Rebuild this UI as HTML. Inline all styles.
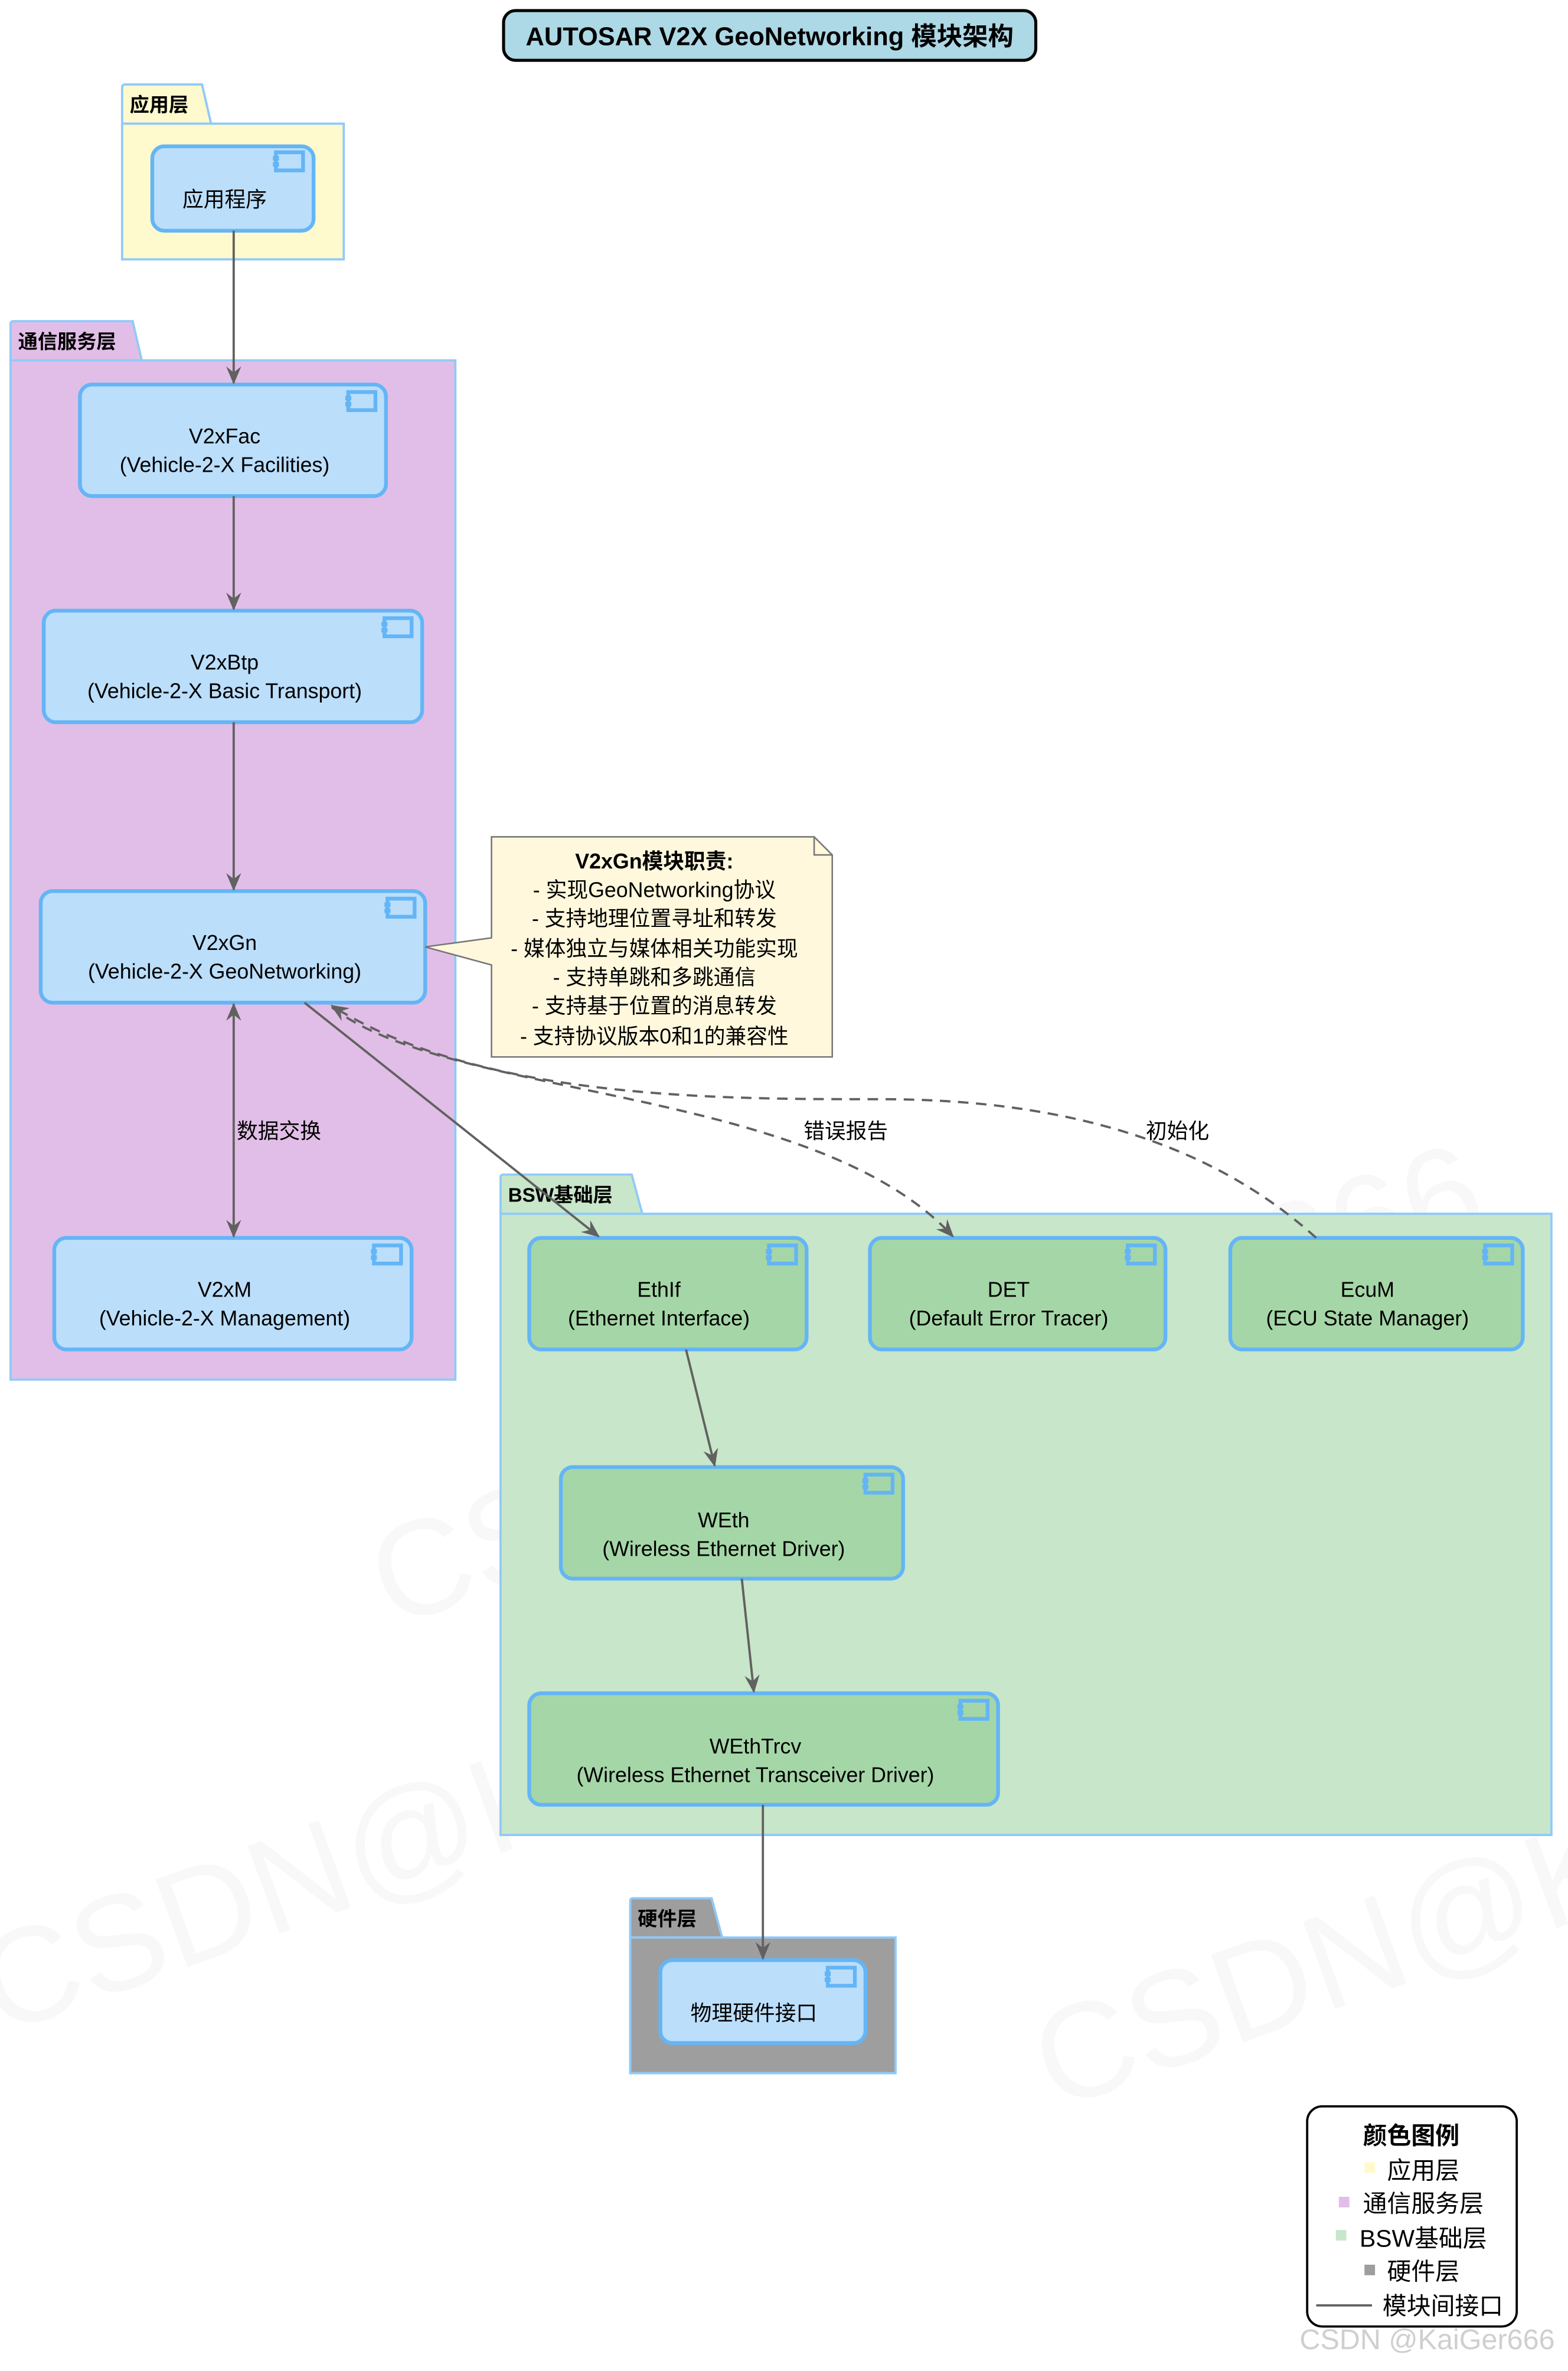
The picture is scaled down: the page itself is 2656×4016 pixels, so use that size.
<!DOCTYPE html>
<html><head><meta charset="utf-8"><style>
html,body{margin:0;padding:0;background:#fff;}
svg{display:block;}
text{font-family:"Liberation Sans","Noto Sans CJK SC",sans-serif;fill:#000;}
</style></head><body>
<svg width="2656" height="4016" viewBox="0 0 1040 1572.5" xmlns="http://www.w3.org/2000/svg">
<defs>
<marker id="ah" viewBox="0 0 12 10" refX="11" refY="5" markerWidth="12" markerHeight="10" markerUnits="userSpaceOnUse" orient="auto-start-reverse">
<path d="M0,0 L12,5 L0,10 L4,5 Z" fill="#616161"/>
</marker>
<g id="ic"><rect x="2" y="0" width="18" height="12" fill="none" stroke="#64b5f6" stroke-width="2.5"/><rect x="0" y="2.5" width="4" height="3" fill="#64b5f6"/><rect x="0" y="6.5" width="4" height="3" fill="#64b5f6"/></g>
</defs>

<!-- watermark -->
<g fill="#000" opacity="0.025" font-size="90">
<text x="260" y="1080" transform="rotate(-20 260 1080)">CSDN@KaiGer666</text>
<text x="0" y="1350" transform="rotate(-20 0 1350)">CSDN@KaiGer666</text>
<text x="700" y="1400" transform="rotate(-20 700 1400)">CSDN@KaiGer666</text>
</g>

<!-- title -->
<rect x="334" y="7" width="353" height="33" rx="8" fill="#add8e6" stroke="#000" stroke-width="2"/>
<text x="510.5" y="30" font-size="17" font-weight="bold" text-anchor="middle">AUTOSAR V2X GeoNetworking 模块架构</text>

<!-- app layer -->
<path d="M81,82 L81,58 Q81,56 83,56 L134,56 L140,82 Z" fill="#fffacd" stroke="#90caf9" stroke-width="1.5"/>
<rect x="81" y="82" width="147" height="90" fill="#fffacd" stroke="#90caf9" stroke-width="1.5"/>
<text x="86" y="74" font-size="13" font-weight="bold">应用层</text>
<rect x="101" y="97" width="107" height="56" rx="8" fill="#bbdefb" stroke="#64b5f6" stroke-width="2.5"/>
<use href="#ic" x="181" y="101"/>
<text x="149" y="137" font-size="14" text-anchor="middle">应用程序</text>

<!-- comm layer -->
<path d="M7,239 L7,215 Q7,213 9,213 L88,213 L94,239 Z" fill="#e1bee7" stroke="#90caf9" stroke-width="1.5"/>
<rect x="7" y="239" width="295" height="676" fill="#e1bee7" stroke="#90caf9" stroke-width="1.5"/>
<text x="12" y="231" font-size="13" font-weight="bold">通信服务层</text>

<g font-size="14" text-anchor="middle">
<rect x="53" y="255" width="203" height="74" rx="8" fill="#bbdefb" stroke="#64b5f6" stroke-width="2.5"/>
<use href="#ic" x="229" y="260"/>
<text x="149" y="294">V2xFac</text><text x="149" y="313">(Vehicle-2-X Facilities)</text>

<rect x="29" y="405" width="251" height="74" rx="8" fill="#bbdefb" stroke="#64b5f6" stroke-width="2.5"/>
<use href="#ic" x="253" y="410"/>
<text x="149" y="444">V2xBtp</text><text x="149" y="463">(Vehicle-2-X Basic Transport)</text>

<rect x="27" y="591" width="255" height="74" rx="8" fill="#bbdefb" stroke="#64b5f6" stroke-width="2.5"/>
<use href="#ic" x="255" y="596"/>
<text x="149" y="630">V2xGn</text><text x="149" y="649">(Vehicle-2-X GeoNetworking)</text>

<rect x="36" y="821" width="237" height="74" rx="8" fill="#bbdefb" stroke="#64b5f6" stroke-width="2.5"/>
<use href="#ic" x="246" y="826"/>
<text x="149" y="860">V2xM</text><text x="149" y="879">(Vehicle-2-X Management)</text>
</g>

<!-- BSW layer -->
<path d="M332,805 L332,781 Q332,779 334,779 L419,779 L426,805 Z" fill="#c8e6c9" stroke="#90caf9" stroke-width="1.5"/>
<rect x="332" y="805" width="697" height="412" fill="#c8e6c9" stroke="#90caf9" stroke-width="1.5"/>
<text x="337" y="797" font-size="13" font-weight="bold">BSW基础层</text>

<g font-size="14" text-anchor="middle">
<rect x="351" y="821" width="184" height="74" rx="8" fill="#a5d6a7" stroke="#64b5f6" stroke-width="2.5"/>
<use href="#ic" x="508" y="826"/>
<text x="437" y="860">EthIf</text><text x="437" y="879">(Ethernet Interface)</text>

<rect x="577" y="821" width="196" height="74" rx="8" fill="#a5d6a7" stroke="#64b5f6" stroke-width="2.5"/>
<use href="#ic" x="746" y="826"/>
<text x="669" y="860">DET</text><text x="669" y="879">(Default Error Tracer)</text>

<rect x="816" y="821" width="194" height="74" rx="8" fill="#a5d6a7" stroke="#64b5f6" stroke-width="2.5"/>
<use href="#ic" x="983" y="826"/>
<text x="907" y="860">EcuM</text><text x="907" y="879">(ECU State Manager)</text>

<rect x="372" y="973" width="227" height="74" rx="8" fill="#a5d6a7" stroke="#64b5f6" stroke-width="2.5"/>
<use href="#ic" x="572" y="978"/>
<text x="480" y="1013">WEth</text><text x="480" y="1032">(Wireless Ethernet Driver)</text>

<rect x="351" y="1123" width="311" height="74" rx="8" fill="#a5d6a7" stroke="#64b5f6" stroke-width="2.5"/>
<use href="#ic" x="635" y="1128"/>
<text x="501" y="1163">WEthTrcv</text><text x="501" y="1182">(Wireless Ethernet Transceiver Driver)</text>
</g>

<!-- hardware -->
<path d="M418,1285 L418,1261 Q418,1259 420,1259 L472,1259 L479,1285 Z" fill="#9e9e9e" stroke="#90caf9" stroke-width="1.5"/>
<rect x="418" y="1285" width="176" height="90" fill="#9e9e9e" stroke="#90caf9" stroke-width="1.5"/>
<text x="423" y="1277" font-size="13" font-weight="bold">硬件层</text>
<rect x="438" y="1300" width="136" height="55" rx="8" fill="#bbdefb" stroke="#64b5f6" stroke-width="2.5"/>
<use href="#ic" x="547" y="1305"/>
<text x="500" y="1340" font-size="14" text-anchor="middle">物理硬件接口</text>

<!-- note -->
<path d="M326,555 L540,555 L552,567 L552,701 L326,701 L326,640 L282,628 L326,622 Z" fill="#fff8dc" stroke="#777" stroke-width="1"/>
<path d="M540,555 L540,567 L552,567" fill="none" stroke="#777" stroke-width="1"/>
<g font-size="14" text-anchor="middle">
<text x="434" y="576" font-weight="bold">V2xGn模块职责:</text>
<text x="434" y="595">- 实现GeoNetworking协议</text>
<text x="434" y="614">- 支持地理位置寻址和转发</text>
<text x="434" y="634">- 媒体独立与媒体相关功能实现</text>
<text x="434" y="653">- 支持单跳和多跳通信</text>
<text x="434" y="672">- 支持基于位置的消息转发</text>
<text x="434" y="692">- 支持协议版本0和1的兼容性</text>
</g>

<!-- connectors -->
<g stroke="#616161" stroke-width="1.5" fill="none">
<line x1="155" y1="153" x2="155" y2="254" marker-end="url(#ah)"/>
<line x1="155" y1="329" x2="155" y2="404" marker-end="url(#ah)"/>
<line x1="155" y1="479" x2="155" y2="590" marker-end="url(#ah)"/>
<line x1="155" y1="666" x2="155" y2="820" marker-start="url(#ah)" marker-end="url(#ah)"/>
<line x1="202" y1="665" x2="397" y2="820" marker-end="url(#ah)"/>
<line x1="455" y1="895" x2="474" y2="972" marker-end="url(#ah)"/>
<line x1="492" y1="1047" x2="500" y2="1122" marker-end="url(#ah)"/>
<line x1="506" y1="1197" x2="506" y2="1299" marker-end="url(#ah)"/>
<path d="M220,668 C300,730 540,720 632,820" stroke-dasharray="7,5" marker-end="url(#ah)"/>
<path d="M873,821 C800,755 700,729 584,729 C480,729 320,730 220,667" stroke-dasharray="7,5" marker-end="url(#ah)"/>
</g>
<g font-size="14">
<text x="157" y="755">数据交换</text>
<text x="533" y="755">错误报告</text>
<text x="760" y="755">初始化</text>
</g>

<!-- legend -->
<rect x="867" y="1397" width="139" height="146" rx="10" fill="#fff" stroke="#000" stroke-width="1.5"/>
<g font-size="16" text-anchor="middle">
<text x="936" y="1422" font-weight="bold">颜色图例</text>
<text x="944" y="1445">应用层</text>
<text x="944" y="1467">通信服务层</text>
<text x="944" y="1490">BSW基础层</text>
<text x="944" y="1512">硬件层</text>
<text x="957" y="1535">模块间接口</text>
</g>
<rect x="905" y="1434" width="7" height="7" fill="#fffacd"/>
<rect x="888" y="1457" width="7" height="7" fill="#e1bee7"/>
<rect x="886" y="1479" width="7" height="7" fill="#c8e6c9"/>
<rect x="905" y="1502" width="7" height="7" fill="#9e9e9e"/>
<line x1="873" y1="1529" x2="910" y2="1529" stroke="#616161" stroke-width="1.5"/>
<text x="862" y="1558" font-size="19" fill="#d0d0d0" style="fill:#cfcfcf">CSDN @KaiGer666</text>
</svg>
</body></html>
